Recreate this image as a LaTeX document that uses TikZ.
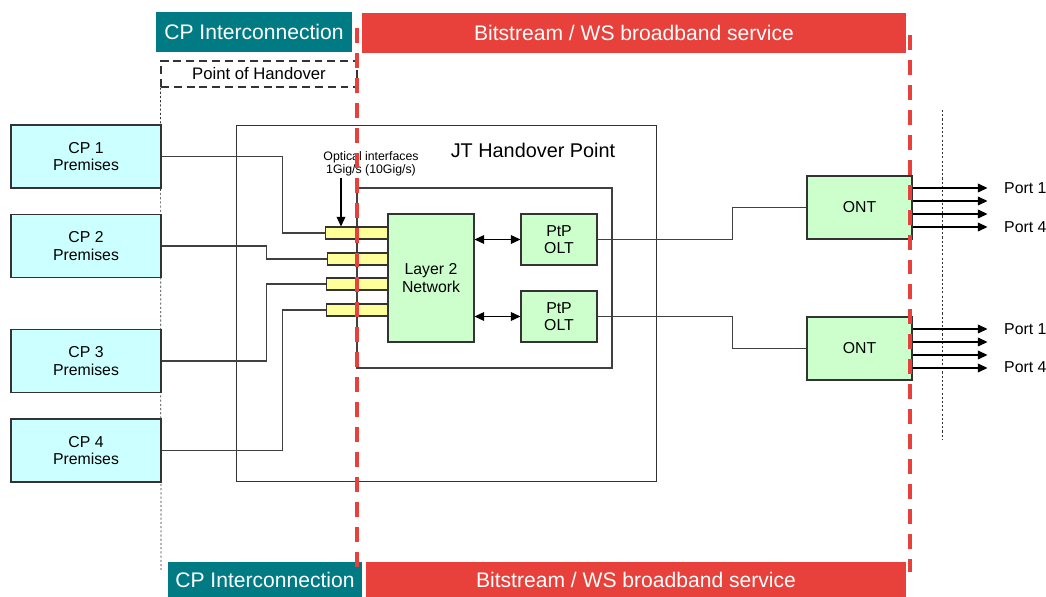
\documentclass[tikz,border=0pt]{standalone}
\usepackage{fontspec}
\setmainfont{Liberation Sans}
\usetikzlibrary{arrows.meta,calc}
\definecolor{cpteal}{HTML}{007B84}
\definecolor{wsred}{HTML}{E8403A}
\definecolor{cpcyan}{HTML}{CCFFFF}
\definecolor{boxgreen}{HTML}{CCFFCC}
\definecolor{ifyellow}{HTML}{FFFF99}
\begin{document}
\begin{tikzpicture}[
        x=0.02cm, y=-0.02cm,
        >={Triangle[length=5.5pt,width=5pt]},
        box/.style={rectangle, draw=black!80, line width=0.6pt, align=center, inner sep=0pt, font=\fontsize{9}{9.8}\selectfont},
        cpbox/.style={box, fill=cpcyan, minimum width=3cm, minimum height=1.26cm},
        greenbox/.style={box, fill=boxgreen},
        ifbar/.style={box, fill=ifyellow, minimum width=1.26cm, minimum height=0.24cm},
        banner/.style={rectangle, text=white, inner sep=0pt, font=\fontsize{12}{14}\selectfont},
        wire/.style={draw=black!75, line width=0.6pt},
        port/.style={->, line width=0.6pt},
        boundary/.style={draw=wsred, line width=1.8pt, dash pattern=on 8.5pt off 5.7pt}
    ]
        \useasboundingbox (0,0) rectangle (1046,597);

        % Banners
        \node[banner, fill=cpteal, minimum width=3.92cm, minimum height=0.8cm] (cptop) at (254,32) {CP Interconnection};
        \node[banner, fill=wsred, minimum width=10.88cm, minimum height=0.8cm] (wstop) at (634,33) {Bitstream / WS broadband service};
        \node[banner, fill=cpteal, minimum width=3.88cm, minimum height=0.72cm] (cpbot) at (265,580) {CP Interconnection};
        \node[banner, fill=wsred, minimum width=10.8cm, minimum height=0.72cm] (wsbot) at (636,580) {Bitstream / WS broadband service};

        % Point of handover
        \node[rectangle, draw=black!80, line width=0.6pt, dash pattern=on 4.5pt off 2.8pt, minimum width=3.92cm, minimum height=0.52cm, font=\fontsize{9.5}{11}\selectfont] (poh) at (259,74) {Point of Handover};
        \draw[black!80, line width=0.4pt, dash pattern=on 1.2pt off 1.2pt] (poh.south west) -- (161,570);
        \draw[black!80, line width=0.4pt, dash pattern=on 1.2pt off 1.2pt] (942,110) -- (942,440);

        % JT handover point
        \node[rectangle, draw=black!80, line width=0.6pt, minimum width=8.42cm, minimum height=7.14cm] (jt) at (446.5,303.5) {};
        \node[font=\fontsize{11.3}{13}\selectfont] (jtlbl) at (533,150) {JT Handover Point};
        \draw[wire] (357,188) rectangle (612,368);

        % CP premises
        \node[cpbox] (cp1) at (86,156.5) {CP 1\\Premises};
        \node[cpbox] (cp2) at (86,246) {CP 2\\Premises};
        \node[cpbox] (cp3) at (86,361) {CP 3\\Premises};
        \node[cpbox] (cp4) at (86,450.5) {CP 4\\Premises};

        % Interfaces
        \node[ifbar] (if1) at (357,233) {};
        \node[ifbar] (if2) at (359,259) {};
        \node[ifbar] (if3) at (358,284) {};
        \node[ifbar] (if4) at (358,310) {};
        \node[font=\fontsize{7}{7.5}\selectfont, align=center] (optlbl) at (371,163.5) {Optical interfaces\\1Gig/s (10Gig/s)};
        \coordinate (optarrow) at (341,178);
        \draw[port] (optarrow) -- (optarrow |- if1.north);

        % Network
        \node[greenbox, minimum width=1.72cm, minimum height=2.56cm] (l2) at (431,278) {Layer 2\\Network};
        \node[greenbox, minimum width=1.52cm, minimum height=1.02cm] (olt1) at (559,239.5) {PtP\\OLT};
        \node[greenbox, minimum width=1.52cm, minimum height=1.02cm] (olt2) at (559,316.5) {PtP\\OLT};
        \node[greenbox, minimum width=2.1cm, minimum height=1.26cm] (ont1) at (859.5,207.5) {ONT};
        \node[greenbox, minimum width=2.1cm, minimum height=1.26cm] (ont2) at (859.5,348.5) {ONT};

        % Connections
        \draw[wire] (cp1.east) -- ++(121,0) |- (if1.west);
        \draw[wire] (cp2.east) -- ++(105,0) |- (if2.west);
        \draw[wire] (cp3.east) -- ++(105,0) |- (if3.west);
        \draw[wire] (cp4.east) -- ++(121,0) |- (if4.west);
        \draw[port, <->] (l2.east |- olt1.west) -- (olt1.west);
        \draw[port, <->] (l2.east |- olt2.west) -- (olt2.west);
        \draw[wire] (olt1.east) -- ++(135,0) |- (ont1.west);
        \draw[wire] (olt2.east) -- ++(135,0) |- (ont2.west);

        % Ports
        \foreach \o in {ont1,ont2} {
            \foreach \dy in {-19.5,-6.5,6.5,19.5}
                \draw[port] ($(\o.east)+(0,\dy)$) -- ++(75,0);
        }
        \node[anchor=west, font=\fontsize{9}{11}\selectfont] (p11) at (998,188) {Port 1};
        \node[anchor=west, font=\fontsize{9}{11}\selectfont] (p14) at (998,227) {Port 4};
        \node[anchor=west, font=\fontsize{9}{11}\selectfont] (p21) at (998,329) {Port 1};
        \node[anchor=west, font=\fontsize{9}{11}\selectfont] (p24) at (998,367) {Port 4};

        % Boundaries
        \draw[boundary] (357,28) -- (357,570);
        \draw[boundary] (910,35) -- (910,572);

    \end{tikzpicture}
\end{document}
